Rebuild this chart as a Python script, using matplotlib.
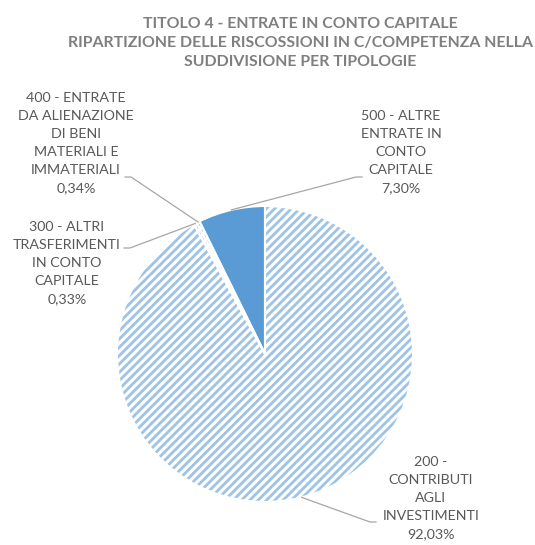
" pie chart: titolo 4 - entrate in conto capitale "
import matplotlib.pyplot as plt
import numpy as np

plt.rcParams['font.family'] = ['Lato', 'DejaVu Sans']
plt.rcParams['hatch.linewidth'] = 2.0

W, H = 535, 545
title = ("TITOLO 4 - ENTRATE IN CONTO CAPITALE\n"
         "RIPARTIZIONE DELLE RISCOSSIONI IN C/COMPETENZA NELLA\n"
         "SUDDIVISIONE PER TIPOLOGIE")
names = ["200 -\nCONTRIBUTI\nAGLI\nINVESTIMENTI",
         "300 - ALTRI\nTRASFERIMENTI\nIN CONTO\nCAPITALE",
         "400 - ENTRATE\nDA ALIENAZIONE\nDI BENI\nMATERIALI E\nIMMATERIALI",
         "500 - ALTRE\nENTRATE IN\nCONTO\nCAPITALE"]
shares = [92.03, 0.33, 0.34, 7.30]
pct_text = ["92,03%", "0,33%", "0,34%", "7,30%"]

# layout (pixels in the 535x545 picture)
cx, cy, R = 265, 354, 148
label_pos = [(431, 498), (67, 263), (76, 143), (401, 152)]
leader_end = [(376, 522), (124, 248), (125, 177), (362, 177)]
hatch_col = ["#9DC3E6", "#9DC3E6", "#9DC3E6", None]
face_col = ["white", "white", "white", "#5B9BD5"]

fig = plt.figure(figsize=(W / 100, H / 100), dpi=100)
ax = fig.add_axes([(cx - R) / W, (H - cy - R) / H, 2 * R / W, 2 * R / H])

wedges, _ = ax.pie(shares, startangle=90, counterclock=False,
                   colors=face_col, wedgeprops=dict(linewidth=0))
for w, hc in zip(wedges, hatch_col):
    if hc:
        w.set_edgecolor(hc)
        w.set_hatch("////")
        w.set_linewidth(0)
# white borders between slices
ax.pie(shares, startangle=90, counterclock=False,
       wedgeprops=dict(fill=False, edgecolor="white", linewidth=1.5))
ax.set_xlim(-1, 1)
ax.set_ylim(-1, 1)
ax.axis("off")


def to_data(px, py):
    return (px - cx) / R, (cy - py) / R


for w, name, pct, (lx, ly), (ex, ey) in zip(wedges, names, pct_text,
                                              label_pos, leader_end):
    tx, ty = to_data(lx, ly)
    ax.text(tx, ty, name + "\n" + pct, ha="center", va="center",
            fontsize=10.3, color="#595959", linespacing=1.6, clip_on=False)
    mid = np.deg2rad((w.theta1 + w.theta2) / 2)
    px, py = np.cos(mid), np.sin(mid)
    ax_, ay_ = to_data(ex, ey)
    bend = ax_ + (6 / R if px > ax_ else -6 / R)
    ax.plot([px, bend, ax_], [py, ay_, ay_], color="#A6A6A6", lw=0.9,
            clip_on=False)

fig.text(300 / W, 1 - 43 / H, title, ha="center", va="center",
         fontsize=11.4, fontweight="bold", color="#7F7F7F", linespacing=1.45)

fig.savefig("out.png", dpi=100)
